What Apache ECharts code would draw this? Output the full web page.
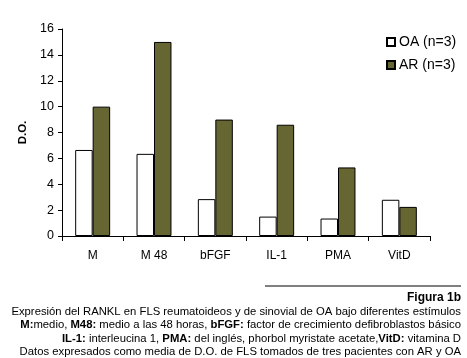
<!DOCTYPE html>
<html><head><meta charset="utf-8">
<script src="https://cdn.jsdelivr.net/npm/echarts@6/dist/echarts.min.js"></script>
<style>html,body{margin:0;padding:0;background:#fff}#c{width:467px;height:358px}</style>
</head><body><div id="c"></div>
<script>
const categories = ['M', 'M 48', 'bFGF', 'IL-1', 'PMA', 'VitD'];
const oaValues = [6.65, 6.35, 2.85, 1.5, 1.35, 2.8];
const arValues = [10, 15, 9, 8.6, 5.3, 2.25];
const yTicks = {min: 0, max: 16, interval: 2};
const captionLines = [
  [{t:'Figura 1b', b:true}],
  [{t:'Expresión del RANKL en FLS reumatoideos y de sinovial de OA bajo diferentes estímulos'}],
  [{t:'M:',b:true},{t:'medio, '},{t:'M48:',b:true},{t:' medio a las 48 horas, '},{t:'bFGF:',b:true},{t:' factor de crecimiento defibroblastos básico'}],
  [{t:'IL-1:',b:true},{t:' interleucina 1, '},{t:'PMA:',b:true},{t:' del inglés, phorbol myristate acetate,'},{t:'VitD:',b:true},{t:' vitamina D'}],
  [{t:'Datos expresados como media de D.O. de FLS tomados de tres pacientes con AR y OA'}]
];
const FONT = 'Liberation Sans, Arial, sans-serif';
const chart = echarts.init(document.getElementById('c'));
const lineYs = [298, 312, 325, 339, 352];
const graphics = [{type:'line', shape:{x1:265,y1:286,x2:461,y2:286}, style:{stroke:'#000', lineWidth:1}}];
captionLines.forEach((parts, i) => {
  const text = parts.map(p => p.b ? '{b|' + p.t + '}' : '{n|' + p.t + '}').join('');
  graphics.push({type:'text', x:461, y:lineYs[i], style:{
    text: text, align:'right', verticalAlign:'middle', fontFamily: FONT, fontSize: 11.3, fill:'#000',
    rich:{ b:{fontWeight:'bold', fontFamily:FONT, fontSize: i===0?12:11.3, fill:'#000'}, n:{fontFamily:FONT, fontSize:11.3, fill:'#000'} }
  }});
});
chart.setOption({
  animation:false,
  backgroundColor:'#fff',
  textStyle:{fontFamily:FONT},
  grid:{left:62, right:37, top:29, bottom:122, containLabel:false},
  legend:{orient:'vertical', left:381, top:30, itemWidth:8, itemHeight:8, itemGap:9, icon:'rect',
    textStyle:{fontFamily:FONT, fontSize:14, color:'#000', padding:[0,0,0,-1]},
    data:['OA (n=3)','AR (n=3)']},
  xAxis:{type:'category', data:categories,
    axisLine:{lineStyle:{color:'#000', width:1}},
    axisTick:{show:true, length:5, lineStyle:{color:'#000'}},
    axisLabel:{color:'#000', fontSize:12, margin:14, fontFamily:FONT}},
  yAxis:{type:'value', min:yTicks.min, max:yTicks.max, interval:yTicks.interval,
    name:'D.O.', nameLocation:'middle', nameRotate:90, nameGap:27,
    nameTextStyle:{fontWeight:'bold', fontSize:11.5, color:'#000', fontFamily:FONT},
    axisLine:{show:true, lineStyle:{color:'#000', width:1}},
    axisTick:{show:true, length:4, lineStyle:{color:'#000'}},
    splitLine:{show:false},
    axisLabel:{color:'#000', fontSize:12.5, margin:8, fontFamily:FONT}},
  series:[
    {name:'OA (n=3)', type:'bar', data:oaValues, barGap:'0%', barCategoryGap:'43%',
      itemStyle:{color:'#fff', borderColor:'#000', borderWidth:1}},
    {name:'AR (n=3)', type:'bar', data:arValues, barGap:'0%', barCategoryGap:'43%',
      itemStyle:{color:'#666633', borderColor:'#000', borderWidth:1}}
  ],
  graphic: graphics
});
</script></body></html>
